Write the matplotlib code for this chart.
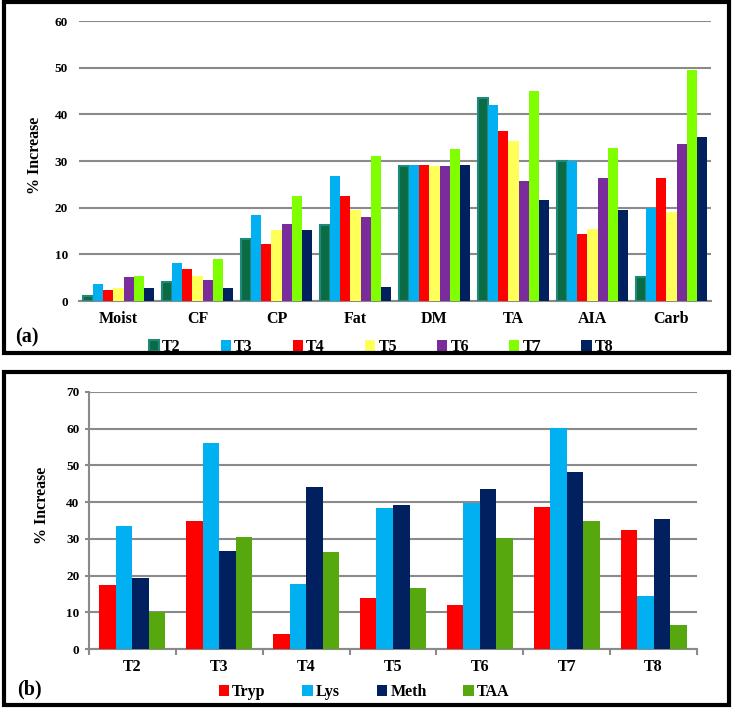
import numpy as np
import matplotlib
matplotlib.use('Agg')
import matplotlib.pyplot as plt
from matplotlib.patches import Rectangle

plt.rcParams['font.family'] = ['Liberation Serif', 'DejaVu Serif']
plt.rcParams['font.weight'] = 'bold'

# panel (a) data
params = ['Moist', 'CF', 'CP', 'Fat', 'DM', 'TA', 'AIA', 'Carb']
treat_a = ['T2', 'T3', 'T4', 'T5', 'T6', 'T7', 'T8']
T2 = [1.0, 4.1, 13.3, 16.2, 28.9, 43.6, 29.9, 5.1]
T3 = [3.6, 8.1, 18.4, 26.8, 29.1, 42.1, 30.1, 20.0]
T4 = [2.4, 6.8, 12.2, 22.5, 29.2, 36.4, 14.3, 26.3]
T5 = [2.7, 5.4, 15.2, 19.6, 28.9, 34.3, 15.4, 19.1]
T6 = [5.1, 4.5, 16.6, 18.0, 28.9, 25.7, 26.4, 33.6]
T7 = [5.4, 9.1, 22.6, 31.1, 32.6, 44.9, 32.8, 49.5]
T8 = [2.7, 2.7, 15.2, 3.1, 29.1, 21.6, 19.4, 35.1]
colors_a = ['#0b6b45', '#00b0f0', '#ff0000', '#ffff5a', '#7b2c9c', '#80ff00', '#002060']

# panel (b) data
treat_b = ['T2', 'T3', 'T4', 'T5', 'T6', 'T7', 'T8']
amino = ['Tryp', 'Lys', 'Meth', 'TAA']
Tryp = [17.5, 34.8, 4.2, 14.0, 12.0, 38.6, 32.4]
Lys = [33.5, 56.0, 17.8, 38.3, 39.9, 60.1, 14.5]
Meth = [19.3, 26.8, 44.2, 39.1, 43.5, 48.2, 35.3]
TAA = [10.0, 30.5, 26.5, 16.7, 30.3, 35.0, 6.6]
colors_b = ['#ff0000', '#00b0f0', '#002060', '#56a80e']

W, H = 733, 710
fig = plt.figure(figsize=(W / 100, H / 100), dpi=100)


def box(l, t, r, b):
    return [l / W, 1 - b / H, (r - l) / W, (b - t) / H]


grid_c = '#8a8a8a'

# ---- panel (a)
ax1 = fig.add_axes(box(79, 21, 711, 301))
x = np.arange(len(params))
bw = 0.127
series_a = [T2, T3, T4, T5, T6, T7, T8]
for i, (vals, c, name) in enumerate(zip(series_a, colors_a, treat_a)):
    off = (i - 3) * bw
    if name == 'T2':
        ax1.bar(x + off, vals, bw, color=c, edgecolor='#1f8a7c', linewidth=1.5, label=name, zorder=3)
    else:
        ax1.bar(x + off, vals, bw, color=c, label=name, zorder=3)
ax1.set_xlim(-0.5, len(params) - 0.5)
ax1.set_ylim(0, 60)
ax1.set_yticks(range(0, 61, 10))
ax1.set_xticks(x)
ax1.set_xticklabels(params, fontsize=11.5, fontweight='bold')
ax1.tick_params(axis='x', length=0, pad=7)
ax1.tick_params(axis='y', length=0, pad=8, labelsize=9.5)
ax1.yaxis.grid(True, color=grid_c, linewidth=1.5, zorder=0)
for s in ['left', 'right', 'top']:
    ax1.spines[s].set_visible(False)
ax1.spines['bottom'].set_color(grid_c)
ax1.spines['bottom'].set_linewidth(1.5)
ax1.legend(loc='center', bbox_to_anchor=(381 / W, 1 - 347 / H), bbox_transform=fig.transFigure,
           ncol=7, frameon=False, fontsize=11.5, handlelength=0.65, handleheight=0.65,
           handletextpad=0.2, columnspacing=2.5, borderaxespad=0)
fig.text(35 / W, 1 - 155 / H, '% Increase', rotation=90, ha='center', va='center', fontsize=11.5, fontweight='bold')
fig.text(27 / W, 1 - 337 / H, '(a)', ha='center', va='center', fontsize=14.5, fontweight='bold')

# ---- panel (b)
ax2 = fig.add_axes(box(89, 392, 697, 649))
xb = np.arange(len(treat_b))
bw2 = 0.19
series_b = [Tryp, Lys, Meth, TAA]
for i, (vals, c, name) in enumerate(zip(series_b, colors_b, amino)):
    ax2.bar(xb + (i - 1.5) * bw2, vals, bw2, color=c, label=name, zorder=3)
ax2.set_xlim(-0.5, len(treat_b) - 0.5)
ax2.set_ylim(0, 70)
ax2.set_yticks(range(0, 71, 10))
ax2.set_xticks(xb)
ax2.set_xticklabels(treat_b, fontsize=11.5, fontweight='bold')
ax2.set_xticks(np.arange(-0.5, len(treat_b), 1), minor=True)
ax2.tick_params(axis='x', which='major', length=0, pad=7)
ax2.tick_params(axis='x', which='minor', length=4, color=grid_c, width=1.5)
ax2.tick_params(axis='y', length=3, color=grid_c, width=1.5, pad=4, labelsize=9.5)
ax2.yaxis.grid(True, color=grid_c, linewidth=1.5, zorder=0)
for s in ['right', 'top']:
    ax2.spines[s].set_visible(False)
for s in ['left', 'bottom']:
    ax2.spines[s].set_color(grid_c)
    ax2.spines[s].set_linewidth(1.5)
ax2.legend(loc='center', bbox_to_anchor=(364 / W, 1 - 692 / H), bbox_transform=fig.transFigure,
           ncol=4, frameon=False, fontsize=11.5, handlelength=0.65, handleheight=0.65,
           handletextpad=0.2, columnspacing=2.3, borderaxespad=0)
fig.text(42 / W, 1 - 505 / H, '% Increase', rotation=90, ha='center', va='center', fontsize=11.5, fontweight='bold')
fig.text(29 / W, 1 - 689 / H, '(b)', ha='center', va='center', fontsize=14.5, fontweight='bold')

# panel frames
for (l, t, r, b) in [(4, 2, 729, 353), (4, 372, 729, 705)]:
    fig.patches.append(Rectangle((l / W, 1 - b / H), (r - l) / W, (b - t) / H, transform=fig.transFigure,
                                 fill=False, edgecolor='black', linewidth=3, figure=fig))

fig.savefig('out.png', dpi=100)
